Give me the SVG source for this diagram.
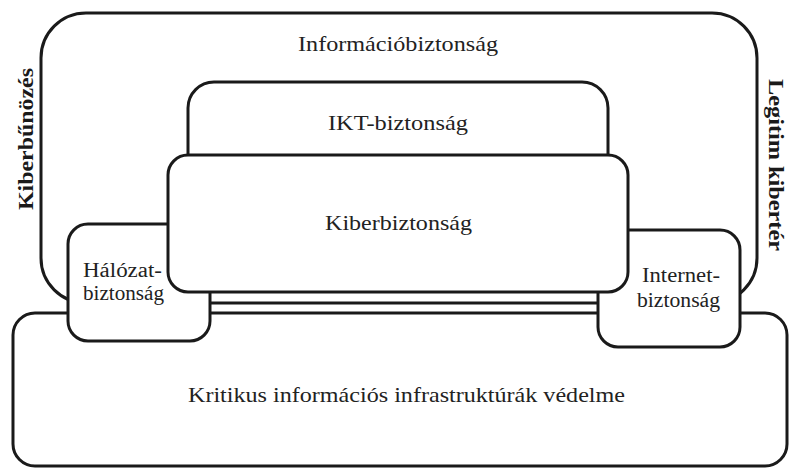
<svg xmlns="http://www.w3.org/2000/svg" width="790" height="470" viewBox="0 0 790 470">
<style>
.box{fill:#fff;stroke:#1a1a1a;stroke-width:3}
.lbl{font-family:'Liberation Serif','Times New Roman',Times,'DejaVu Serif',serif;font-size:22px;fill:#222}
.sm{font-family:'Liberation Serif','Times New Roman',Times,'DejaVu Serif',serif;font-size:20px;fill:#222}
.side{font-family:'Liberation Serif','Times New Roman',Times,'DejaVu Serif',serif;font-weight:bold;font-size:21px;fill:#1a1a1a}
</style>
<rect width="790" height="470" fill="#fff"/>
<g id="informaciobiztonsag">
<rect class="box" x="41" y="13" width="716" height="290" rx="45" ry="45"/>
<text class="lbl" x="398" y="51" text-anchor="middle" textLength="200" lengthAdjust="spacingAndGlyphs">Információbiztonság</text>
</g>
<g id="ikt-biztonsag">
<rect class="box" x="188" y="82" width="420" height="180" rx="26" ry="26"/>
<text class="lbl" x="398" y="130" text-anchor="middle" textLength="140" lengthAdjust="spacingAndGlyphs">IKT-biztonság</text>
</g>
<g id="kritikus">
<rect class="box" x="13" y="313" width="774" height="153" rx="22" ry="22"/>
<text class="lbl" x="406.5" y="402" text-anchor="middle" textLength="437" lengthAdjust="spacingAndGlyphs">Kritikus információs infrastruktúrák védelme</text>
</g>
<g id="halozat-biztonsag">
<rect class="box" x="68" y="224" width="142" height="117" rx="20" ry="20"/>
<text class="sm" x="83" y="277" textLength="79" lengthAdjust="spacingAndGlyphs">Hálózat-</text>
<text class="sm" x="83" y="300" textLength="81" lengthAdjust="spacingAndGlyphs">biztonság</text>
</g>
<g id="internet-biztonsag">
<rect class="box" x="598" y="230" width="142" height="117" rx="20" ry="20"/>
<text class="sm" x="642" y="282" textLength="78" lengthAdjust="spacingAndGlyphs">Internet-</text>
<text class="sm" x="637" y="307" textLength="83" lengthAdjust="spacingAndGlyphs">biztonság</text>
</g>
<g id="kiberbiztonsag">
<rect class="box" x="168" y="155" width="460" height="137" rx="20" ry="20"/>
<text class="lbl" x="398.5" y="230" text-anchor="middle" textLength="147" lengthAdjust="spacingAndGlyphs">Kiberbiztonság</text>
</g>
<g id="kiberbunozes">
<text class="side" transform="translate(33,139) rotate(-90)" x="0" y="0" text-anchor="middle" textLength="142" lengthAdjust="spacingAndGlyphs">Kiberbűnözés</text>
</g>
<g id="legitim-kiberter">
<text class="side" transform="translate(769,165) rotate(90)" x="0" y="0" text-anchor="middle" textLength="172" lengthAdjust="spacingAndGlyphs">Legitim kibertér</text>
</g>
<g id="connectors"></g>
</svg>
